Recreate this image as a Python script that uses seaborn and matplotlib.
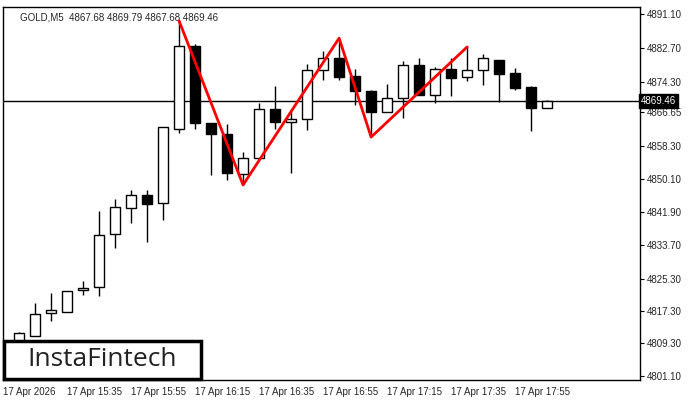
import numpy as np
import pandas as pd
import matplotlib
matplotlib.use("Agg")
import matplotlib.pyplot as plt
import seaborn as sns

sns.set_style("white")
plt.rcParams['font.family'] = ['Liberation Sans', 'DejaVu Sans']

# GOLD M5 candles
opens = [4809.6, 4811.1, 4816.8, 4817.0, 4822.5, 4823.2, 4836.4, 4842.9, 4846.1, 4844.1,
         4862.5, 4883.1, 4864.0, 4861.3, 4851.3, 4855.3, 4867.5, 4864.3, 4865.0, 4877.2,
         4880.2, 4875.7, 4872.0, 4866.7, 4870.2, 4878.4, 4871.0, 4877.4, 4875.4, 4877.2,
         4879.7, 4876.4, 4873.0, 4867.68]
highs = [4812.1, 4819.3, 4821.7, 4822.2, 4824.7, 4842.1, 4845.1, 4847.4, 4847.4, 4863.0,
         4889.4, 4883.6, 4864.0, 4863.8, 4856.8, 4869.0, 4873.2, 4867.5, 4878.7, 4881.9,
         4885.1, 4877.4, 4872.2, 4873.7, 4879.4, 4880.2, 4877.9, 4880.2, 4882.9, 4881.2,
         4879.7, 4877.7, 4873.2, 4869.79]
lows = [4808.8, 4811.1, 4814.8, 4817.0, 4821.2, 4821.0, 4832.9, 4839.1, 4834.4, 4839.9,
        4861.5, 4862.5, 4851.1, 4849.8, 4848.6, 4855.3, 4862.5, 4851.6, 4862.3, 4874.7,
        4874.7, 4868.5, 4860.5, 4866.7, 4865.3, 4871.0, 4869.0, 4870.7, 4874.4, 4873.5,
        4869.2, 4872.2, 4862.0, 4867.68]
closes = [4811.8, 4816.5, 4817.5, 4822.2, 4823.0, 4836.2, 4843.1, 4846.1, 4843.9, 4863.0,
          4883.1, 4864.0, 4861.3, 4851.6, 4855.3, 4867.5, 4864.3, 4865.0, 4877.2, 4880.2,
          4875.4, 4872.0, 4866.7, 4870.2, 4878.4, 4871.0, 4877.4, 4875.2, 4877.2, 4880.2,
          4876.2, 4872.7, 4867.7, 4869.46]
idx = np.arange(1, len(opens) + 1)

# triple top pattern line (candle index, price)
pattern_x = [11, 15, 21, 23, 29]
pattern_y = [4889.4, 4848.6, 4885.1, 4860.5, 4882.9]

tick_prices = [4891.10, 4882.70, 4874.30, 4866.65, 4858.30, 4850.10, 4841.90,
               4833.70, 4825.30, 4817.30, 4809.30, 4801.10]
time_ticks = [0, 4, 8, 12, 16, 20, 24, 28, 32]
time_labels = ["17 Apr 2026", "17 Apr 15:35", "17 Apr 15:55", "17 Apr 16:15", "17 Apr 16:35",
               "17 Apr 16:55", "17 Apr 17:15", "17 Apr 17:35", "17 Apr 17:55"]
last_price = 4869.46

df = pd.DataFrame({"i": idx, "o": opens, "h": highs, "l": lows, "c": closes})

fig = plt.figure(figsize=(7, 4), dpi=100)
ax = fig.add_axes([3 / 700, 20 / 400, 637 / 700, 373 / 400])

ax.vlines(df.i, df.l, df.h, color="black", lw=1, zorder=2)
bottom = df[["o", "c"]].min(axis=1)
height = (df.c - df.o).abs().clip(lower=0.4)
colors = np.where(df.c >= df.o, "white", "black")
ax.bar(df.i, height, bottom=bottom, width=0.62, color=colors, edgecolor="black", lw=1, zorder=3)

ax.axhline(last_price, color="black", lw=1, zorder=1)
sns.lineplot(x=pattern_x, y=pattern_y, ax=ax, color="red", lw=2, zorder=4)

ax.set_xlim(0, 39.8)
ax.set_ylim(4800.1, 4892.84)
ax.yaxis.tick_right()
ax.set_yticks(tick_prices)
ax.set_yticklabels([f"{p:.2f}" for p in tick_prices], fontsize=7)
ax.set_xticks(time_ticks)
ax.set_xticklabels(time_labels, fontsize=7, ha="left")
ax.tick_params(axis="both", length=3, direction="out", color="black", pad=2)
for s in ax.spines.values():
    s.set_color("black")
    s.set_linewidth(1)

ax.text(1.002, last_price, f"{last_price:.2f}", transform=ax.get_yaxis_transform(),
        fontsize=7, color="white", va="center", ha="left",
        bbox=dict(boxstyle="square,pad=0.2", fc="black", ec="black"))
ax.text(0.026, 0.985, "GOLD,M5  4867.68 4869.79 4867.68 4869.46", transform=ax.transAxes,
        fontsize=7, va="top", ha="left")

fig.patches.append(plt.Rectangle((4 / 700, 21 / 400), 197 / 700, 38 / 400, transform=fig.transFigure,
                                 fc="white", ec="black", lw=2.5, zorder=10))
fig.text(102 / 700, 40 / 400, "InstaFintech", fontsize=19, ha="center", va="center",
         color="#222222", zorder=11, family=["Open Sans", "DejaVu Sans"], weight="medium")

fig.savefig("out.png", dpi=100)
